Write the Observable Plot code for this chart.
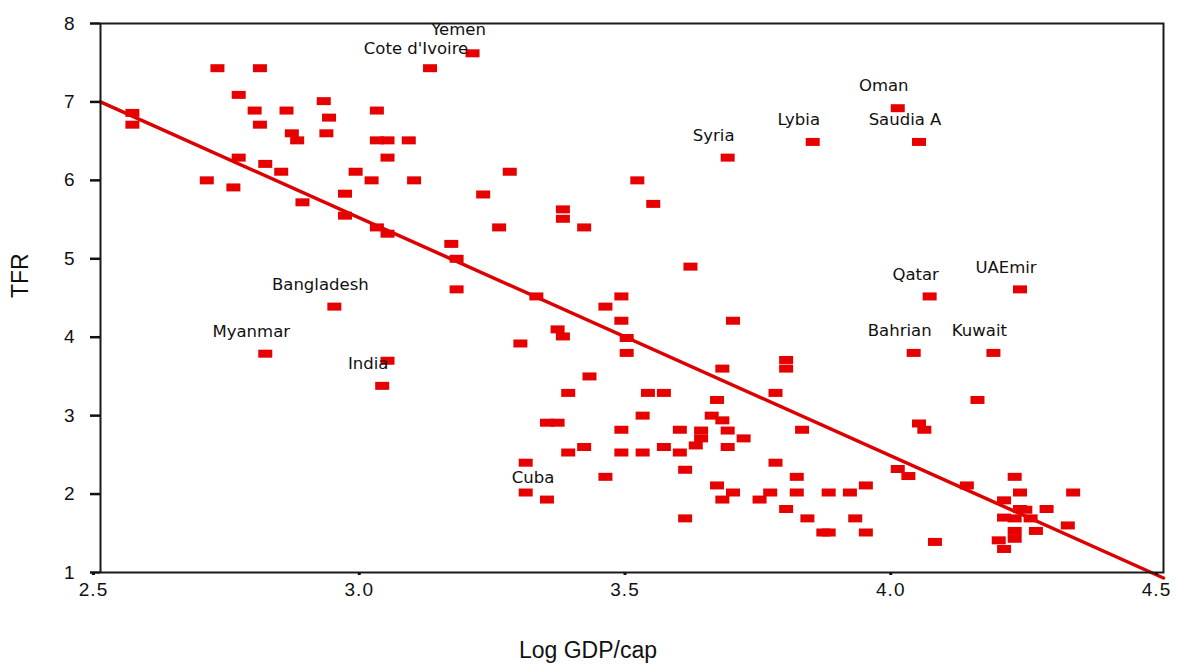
<!DOCTYPE html>
<html><head><meta charset="utf-8">
<script src="https://cdn.jsdelivr.net/npm/d3@7"></script>
<script src="https://cdn.jsdelivr.net/npm/@observablehq/plot@0.6"></script>
<style>body{margin:0;background:#fff;}</style>
</head><body><div id="chart"></div>
<script>
// Country names ("" = unlabelled point)
const countries = [
  "Yemen","Cote d'Ivoire","Oman","Lybia","Saudia A","Syria","Qatar","UAEmir",
  "Bangladesh","Myanmar","Bahrian","Kuwait","India","Cuba"
];
// Log GDP per capita
const logGdp = [
  3.20,3.12,4.00,3.84,4.04,3.68,4.06,4.23,
  2.94,2.81,4.03,4.18,3.03,3.34,
  // left group
  2.56,2.56,2.72,2.80,2.76,2.79,2.80,2.85,2.86,2.87,2.92,2.93,2.925,3.02,3.02,3.04,3.08,3.04,2.76,2.81,2.84,2.70,2.75,2.88,2.96,2.98,3.01,2.96,3.02,3.04,3.09,
  // middle group
  3.04,3.16,3.17,3.17,3.22,3.25,3.27,3.37,3.37,3.41,3.51,3.54,3.32,3.45,3.48,3.48,3.36,3.37,3.29,3.49,3.49,3.61,3.69,3.67,3.42,3.38,3.53,3.56,3.66,3.52,3.65,3.34,3.36,3.67,3.68,3.48,3.59,3.63,3.63,3.62,3.71,3.41,3.38,3.48,3.52,3.56,3.59,3.68,3.30,3.45,3.60,3.66,3.69,3.67,3.74,3.76,3.30,3.60,
  // right group
  3.79,3.79,3.77,4.15,3.82,4.04,4.05,3.77,4.00,4.02,3.81,3.81,3.87,3.91,3.94,3.79,3.83,3.86,3.87,3.92,3.94,4.07,4.13,4.22,4.23,4.33,4.28,4.32,4.26,4.20,4.23,4.24,4.20,4.22,4.25,4.22,4.22,4.19,4.20
];
// Total fertility rate
const tfr = [
  7.62,7.43,6.92,6.49,6.49,6.29,4.52,4.61,
  4.39,3.79,3.80,3.80,3.38,1.93,
  // left group
  6.86,6.71,7.43,7.43,7.09,6.89,6.71,6.89,6.60,6.51,7.01,6.80,6.60,6.89,6.51,6.51,6.51,6.29,6.29,6.21,6.11,6.00,5.91,5.72,5.83,6.11,6.00,5.55,5.40,5.32,6.00,
  // middle group
  3.70,5.19,5.00,4.61,5.82,5.40,6.11,5.63,5.51,5.40,6.00,5.70,4.52,4.39,4.52,4.21,4.10,4.01,3.92,3.99,3.80,4.90,4.21,3.60,3.50,3.29,3.29,3.29,3.20,3.00,3.00,2.91,2.91,2.94,2.81,2.82,2.82,2.81,2.71,2.62,2.71,2.60,2.53,2.53,2.53,2.60,2.53,2.60,2.40,2.22,2.31,2.11,2.02,1.93,1.93,2.02,2.02,1.69,
  // right group
  3.71,3.60,3.29,3.20,2.82,2.90,2.82,2.40,2.32,2.23,2.22,2.02,2.02,2.02,2.11,1.81,1.69,1.51,1.51,1.69,1.51,1.39,2.11,2.22,2.02,2.02,1.81,1.60,1.53,1.92,1.81,1.80,1.70,1.69,1.69,1.53,1.43,1.41,1.30
];
// Fitted regression line end points
const fitGdp = [2.5, 4.5];
const fitTfr = [7.0, 0.93];
const xTicks = [2.5, 3.0, 3.5, 4.0, 4.5];
const yTicks = [1, 2, 3, 4, 5, 6, 7, 8];

const n = Math.min(logGdp.length, tfr.length);
const points = d3.range(n).map(i => ({x: logGdp[i], y: tfr[i], name: countries[i] || ""}));
const fit = fitGdp.map((x, i) => ({x, y: fitTfr[i]}));
const labelled = points.filter(d => d.name);
const rectSymbol = {draw(ctx) { ctx.moveTo(-7, -4); ctx.lineTo(7, -4); ctx.lineTo(7, 4); ctx.lineTo(-7, 4); ctx.closePath(); }};
const labelStyle = {x: "x", y: "y", text: "name", dx: -14, fontSize: 16.5, fontFamily: "'DejaVu Sans', sans-serif", fill: "#111", ariaLabel: "country-labels"};

const chart = Plot.plot({
  width: 1178, height: 671,
  marginLeft: 100, marginRight: 15, marginTop: 23, marginBottom: 99,
  style: {background: "#fff", fontFamily: "'Liberation Sans', Arial, sans-serif", color: "#111"},
  x: {domain: [2.5, 4.5]},
  y: {domain: [1, 8]},
  marks: [
    Plot.line(fit, {x: "x", y: "y", stroke: "#dd0000", strokeWidth: 3.5}),
    Plot.dot(points, {x: "x", y: "y", symbol: rectSymbol, fill: "#e60000", r: 4}),
    Plot.frame({stroke: "#1a1a1a", strokeWidth: 2}),
    Plot.axisY({ticks: yTicks, tickFormat: d3.format("d"), tickSize: 10, tickPadding: 15, strokeWidth: 2.5, fontSize: 19, label: null}),
    Plot.axisX({ticks: xTicks, tickFormat: d3.format(".1f"), tickSize: 3, tickPadding: 7, strokeWidth: 3, fontSize: 19, label: null, dx: -7}),
    Plot.text(["TFR"], {text: d => d, frameAnchor: "left", rotate: -90, dx: -80, fontSize: 23}),
    Plot.text(["Log GDP/cap"], {text: d => d, frameAnchor: "bottom", dx: -44, dy: 85, fontSize: 23}),
    Plot.text(labelled.filter(d => d.name !== "Yemen" && d.name !== "Cote d'Ivoire"), {...labelStyle, dy: -22}),
    Plot.text(labelled.filter(d => d.name === "Yemen"), {...labelStyle, dy: -24}),
    Plot.text(labelled.filter(d => d.name === "Cote d'Ivoire"), {...labelStyle, dy: -19})
  ]
});
d3.select(chart).selectAll('g[aria-label="country-labels"] text').style("letter-spacing", "1.5px");
d3.select(chart).selectAll('g[aria-label="y-axis tick label"] text, g[aria-label="x-axis tick label"] text').style("letter-spacing", "1px");
document.getElementById("chart").append(chart);
</script>
</body></html>
